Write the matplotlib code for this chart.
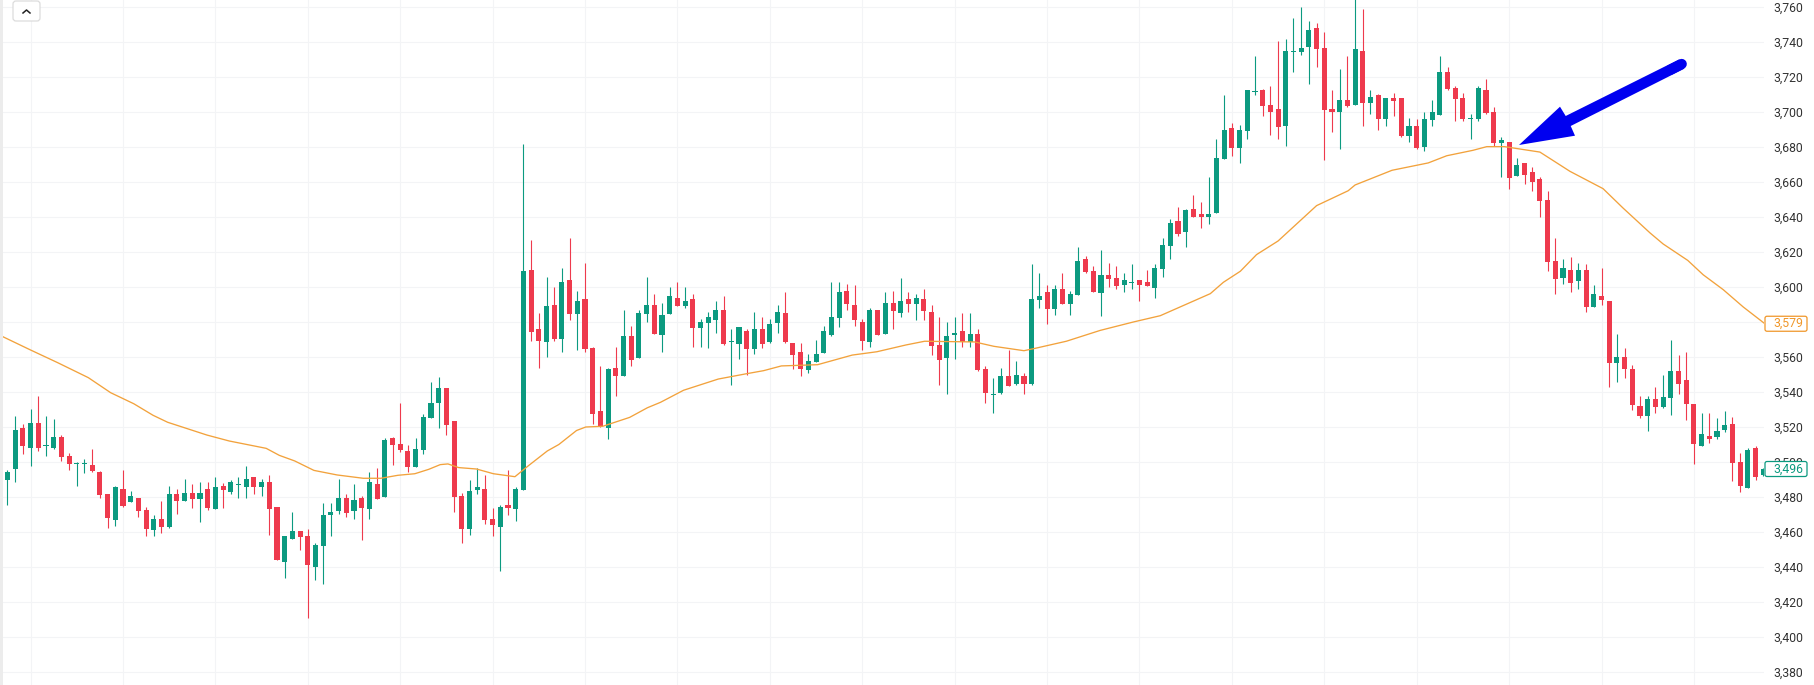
import numpy as np
import matplotlib
matplotlib.use("Agg")
import matplotlib.pyplot as plt
from matplotlib.patches import FancyBboxPatch, Polygon, Rectangle
from matplotlib.lines import Line2D
from matplotlib.transforms import IdentityTransform

W, H = 1814, 685

# Candles, first one sits three bars left of the first vertical grid line
first_bar = -3

opens = [
    3489.5, 3495.8, 3519.2, 3508, 3522.1, 3509, 3507.8, 3514.1, 3503.2, 3498.9, 3498.9, 3498.1,
    3494.1, 3481.5, 3466.7, 3484.4, 3477, 3479.2, 3472.4, 3461, 3467.2, 3462.7, 3481.5, 3477.5,
    3482.1, 3478.7, 3484.4, 3473, 3486.1, 3482.7, 3486.7, 3485.5, 3491.2, 3485.5, 3488.4, 3474.1,
    3442.7, 3455.8, 3460.4, 3457.5, 3439.8, 3451.8, 3469.5, 3471.8, 3479.2, 3471.8, 3479.2, 3473,
    3487.2, 3479.8, 3513.5, 3510.1, 3506.1, 3497, 3506.7, 3525, 3533.5, 3542.1, 3523.2, 3480.4,
    3461.5, 3483.8, 3484.4, 3467.2, 3462.7, 3475.2, 3473, 3483.8,
    3609.9, 3576.2, 3568.8, 3589.9, 3570.5, 3604.2, 3584.8, 3593.3, 3565.3, 3529.3, 3519.6, 3553.9,
    3549.3, 3572.2, 3559.6, 3584.8, 3589.9, 3572.8, 3584.8, 3593.9, 3589.3, 3593.3, 3576.8, 3579.6,
    3581.3, 3587, 3568.8, 3567.6, 3575, 3564.8, 3576.2, 3568.8, 3579.6, 3585.3, 3568.2, 3563,
    3552.8, 3557.3, 3562.5, 3572.8, 3582.5, 3597.9, 3589.9, 3580.2, 3568.8, 3587, 3573.3, 3591,
    3585.3, 3593.3, 3590.5, 3593.3, 3585.9, 3567, 3559.6, 3572.8, 3575, 3568.8, 3573.3, 3553.3,
    3538.5, 3539.4, 3549.3, 3544.8, 3549.3, 3544.8,
    3592.8, 3597.3, 3587.6, 3599, 3590.5, 3595.6, 3616.2, 3609.3, 3596.8, 3607, 3605.3, 3601.3,
    3602.5, 3604.2, 3603, 3599.6, 3610.5, 3623.6, 3637.9, 3631.6, 3644.8, 3641.9, 3640.2, 3642.5,
    3673.3, 3691, 3679.6, 3689.3, 3711.6, 3712.4, 3704.2, 3701.9, 3692.2, 3734.5, 3734.3, 3737.3,
    3748.2, 3736.8, 3701.9, 3700.2, 3707, 3704.2, 3735, 3705.3, 3709.9, 3696.2, 3708.2, 3708.2,
    3686.5, 3692.2, 3680.2, 3695.6, 3698.5, 3723, 3713.9, 3708.2, 3695.8, 3696.2, 3712.8, 3700.2,
    3682.5, 3683, 3663.6, 3671, 3665.9, 3661.9, 3649.9, 3615, 3605.3, 3609.9, 3603.6, 3609.9,
    3588.8, 3595, 3592.2, 3556.8, 3560.2, 3553.3, 3532.2, 3526.5, 3536.2, 3531.6, 3536.8, 3552.2,
    3547, 3533.3, 3509.3, 3515, 3514.5, 3518.5, 3521.9, 3500.2, 3485.3, 3508.2, 3492.8,
]
closes = [
    3494.3, 3518.1, 3509.1, 3522.1, 3508, 3509.5, 3514.1, 3502.9, 3498.9, 3499.2, 3499.2, 3494.7,
    3481.1, 3467.8, 3485.5, 3474.7, 3480.4, 3471.8, 3461.5, 3467.2, 3462.7, 3481.5, 3477.5, 3482.1,
    3478.7, 3482.1, 3473.5, 3485.5, 3483.8, 3488.4, 3487.2, 3490.1, 3485.5, 3488.4, 3473, 3443.8,
    3457.5, 3460.4, 3456.9, 3441, 3452.4, 3469.5, 3471.2, 3479.2, 3470.7, 3478.1, 3473.5, 3488.4,
    3478.7, 3512.4, 3509.5, 3506.7, 3497, 3507.2, 3525.5, 3533.5, 3542.1, 3521, 3479.8, 3461.5,
    3483.2, 3485.5, 3466.7, 3463.8, 3474.1, 3473.5, 3484.4, 3609.3,
    3574.5, 3569.3, 3589.3, 3570.5, 3603, 3584.8, 3592.2, 3564.8, 3527.6, 3520.8, 3553.3, 3549.3,
    3572.2, 3558.5, 3585.3, 3589.9, 3573.3, 3584.2, 3595, 3589.3, 3592.2, 3576.8, 3580.2, 3583,
    3587, 3567.6, 3569.3, 3577.3, 3564.8, 3576.2, 3567.6, 3579, 3585.9, 3568.8, 3561.3, 3553.3,
    3557.9, 3561.9, 3575, 3583, 3597.3, 3590.5, 3581.3, 3569.3, 3587, 3572.8, 3591, 3586.5,
    3592.2, 3590.5, 3593.9, 3586.5, 3566.5, 3558.5, 3572.2, 3573.9, 3568.8, 3573.3, 3552.8, 3539.6,
    3539, 3549.3, 3543.6, 3549.9, 3544.8, 3593.3,
    3595, 3587.6, 3599, 3590.5, 3596.2, 3615, 3608.6, 3597.3, 3607, 3604.8, 3600.8, 3604.2,
    3603, 3601.3, 3600.8, 3611, 3624.2, 3636.8, 3630.5, 3644.2, 3640.2, 3640.2, 3641.9, 3673.9,
    3689.9, 3679.6, 3689.9, 3712.8, 3712.2, 3703.6, 3700.2, 3691.6, 3735, 3735, 3736.8, 3747,
    3736.2, 3701.3, 3700.2, 3707, 3703.6, 3736.2, 3705.3, 3708.8, 3696.2, 3708.2, 3706.5, 3686.5,
    3692.2, 3679.6, 3696.2, 3700.2, 3723, 3713.3, 3707.6, 3696.2, 3696.2, 3713.9, 3699.6, 3682.3,
    3684, 3662.5, 3669.9, 3664.2, 3660.2, 3649.3, 3614.5, 3604.8, 3611, 3602.5, 3609.9, 3588.8,
    3596.2, 3592.8, 3556.8, 3560.2, 3553.3, 3532.8, 3526.5, 3536.2, 3531.6, 3537.3, 3552.2, 3544.8,
    3533.3, 3510.5, 3516.2, 3513.3, 3517.9, 3521.3, 3499.6, 3486.5, 3507, 3491.6, 3496,
]
highs = [
    3495.2, 3526.1, 3521.5, 3530.1, 3537.5, 3526.1, 3524.4, 3515.2, 3505.3, 3500, 3501.5, 3507.2,
    3495, 3481.9, 3486.3, 3495.2, 3483.2, 3479.2, 3474.1, 3469.5, 3477.5, 3486.1, 3484.4, 3490.1,
    3487.2, 3488.4, 3488.4, 3491.2, 3487.8, 3489.5, 3491.2, 3497.5, 3491.2, 3490.1, 3492.4, 3474.1,
    3457.5, 3471.2, 3460.4, 3461.5, 3453.5, 3476.4, 3476.4, 3490.1, 3481.5, 3487.2, 3480.4, 3494.1,
    3496.4, 3513.5, 3514.1, 3533.5, 3509.5, 3513.5, 3527.2, 3545.5, 3548.4, 3542.1, 3523.2, 3482.1,
    3489.5, 3496.4, 3492.4, 3473.5, 3475.2, 3495.2, 3485.5, 3681.9,
    3627, 3585.3, 3605.9, 3600.2, 3611, 3628.2, 3597.9, 3613.9, 3565.9, 3555, 3553.9, 3565.9,
    3587, 3577.9, 3587, 3605.9, 3596.2, 3591, 3600.2, 3603, 3600.2, 3596.2, 3581.9, 3585.9,
    3592.2, 3595, 3576.2, 3577.3, 3576.2, 3585.9, 3583, 3581.9, 3589.9, 3597.3, 3568.2, 3568.2,
    3561.9, 3569.9, 3577.9, 3603, 3603, 3601.9, 3601.3, 3581.9, 3588.2, 3587, 3597.3, 3597.9,
    3605.3, 3597.3, 3596.2, 3599, 3589.9, 3583, 3580.2, 3583, 3585.3, 3585.3, 3576.2, 3555,
    3548.2, 3553.9, 3564.2, 3557.9, 3551, 3613.3,
    3608.2, 3601.3, 3601.3, 3608.2, 3597.9, 3623, 3617.9, 3612.2, 3621.3, 3613.9, 3612.2, 3608.2,
    3613.3, 3604.2, 3609.9, 3613.3, 3628.2, 3639, 3645.9, 3644.8, 3652.8, 3648.8, 3663, 3684.8,
    3709.9, 3693.9, 3692.8, 3712.8, 3732.2, 3713, 3715, 3740.8, 3741.9, 3753.9, 3760.2, 3752.2,
    3751, 3745.9, 3712.8, 3724.8, 3732.2, 3766, 3759, 3712.8, 3710.5, 3708.2, 3711, 3708.2,
    3696.8, 3696.2, 3700.2, 3707, 3732.2, 3725.9, 3715, 3711, 3699, 3715, 3719, 3703,
    3685.7, 3683, 3673.9, 3671, 3668.8, 3663, 3655, 3628.2, 3616.2, 3617.3, 3613.9, 3613.3,
    3601.3, 3611, 3592.2, 3573.3, 3565.3, 3555.6, 3537.9, 3537.9, 3543, 3549.9, 3569.9, 3561.3,
    3563, 3533.3, 3528.2, 3528.2, 3525.3, 3529.3, 3525.9, 3505.3, 3508.2, 3509.3, 3496.5,
]
lows = [
    3475.4, 3488.4, 3504.4, 3497.7, 3506.1, 3503.4, 3507.2, 3500.4, 3495.2, 3486.3, 3493.5, 3494.3,
    3479.2, 3462.1, 3463.4, 3474.3, 3477, 3468.4, 3457.5, 3457.5, 3459.2, 3462.1, 3470.1, 3477.5,
    3473.5, 3465.5, 3472.4, 3473, 3473.5, 3481.5, 3479.2, 3479.2, 3481.5, 3480.4, 3458.1, 3443.8,
    3433.5, 3455.8, 3449.5, 3410.7, 3432.4, 3430.1, 3457.5, 3470.1, 3468.4, 3467.2, 3455.2, 3467.2,
    3478.7, 3479.8, 3498.1, 3505.5, 3494.1, 3497, 3504.4, 3525, 3519.2, 3515.2, 3471.2, 3453.5,
    3458.1, 3481.5, 3464.4, 3457.5, 3437.5, 3469.5, 3466.1, 3483.8,
    3569.3, 3553.9, 3560.2, 3569.3, 3563, 3581.3, 3564.2, 3563, 3521.9, 3520.2, 3513.3, 3537.9,
    3549.3, 3555, 3559.6, 3580.2, 3573.3, 3563, 3584.8, 3589.3, 3588.2, 3565.9, 3565.9, 3565.3,
    3573.9, 3567, 3544.2, 3559, 3549.9, 3561.9, 3565.3, 3568.2, 3573.9, 3568.2, 3553.3, 3549.3,
    3551, 3557.3, 3562.5, 3572.2, 3577.3, 3587, 3577.9, 3564.2, 3565.9, 3572.8, 3573.3, 3576.2,
    3583, 3585.9, 3581.3, 3581.3, 3561.3, 3544.2, 3539, 3559, 3565.9, 3565.9, 3552.2, 3533.9,
    3528.2, 3539, 3543.6, 3544.2, 3539, 3544.2,
    3588.2, 3579, 3584.2, 3590.5, 3584.2, 3595.6, 3608.2, 3597.3, 3583.2, 3600.2, 3599, 3597.3,
    3599, 3592.2, 3600.8, 3593.9, 3605.9, 3616.2, 3629.3, 3623, 3640.2, 3633.9, 3636.2, 3642.5,
    3673.3, 3675, 3671, 3684.8, 3709.9, 3697.9, 3687, 3684.8, 3680.8, 3723, 3732.8, 3716.2,
    3725.9, 3672.8, 3688.8, 3679, 3703, 3704.2, 3692.2, 3699, 3689.9, 3692.2, 3697.9, 3685.9,
    3683, 3679, 3677.9, 3692.2, 3698.5, 3712.8, 3695, 3695, 3684.8, 3695, 3699, 3680.8,
    3663, 3656.2, 3663.6, 3659, 3655, 3640.2, 3609.3, 3596.2, 3601.9, 3597.3, 3599, 3585.9,
    3588.8, 3589.9, 3543, 3545.9, 3548.2, 3529.9, 3525.3, 3517.9, 3528.2, 3531, 3527, 3539,
    3524.2, 3499, 3509.3, 3511, 3513.3, 3517.3, 3489.3, 3483, 3485.3, 3489.9, 3492,
]

# Moving average, read at these bar positions
ma_pos = [
    -3.6, 0, 3.5, 7.5, 10.4, 13.4, 15.9, 17.8, 22.9, 25.8, 30.6, 32.3, 34.3, 36.8, 39.8, 43.2,
    45.5, 47.7, 49.9, 51.7, 53.2, 54.2, 55.6, 57.9, 60.1, 62.9, 64.6, 67.1, 68.6, 70.9, 72.1, 74.3,
    77.8, 80.1, 81.8, 84.8, 89.3, 92.8, 95.2, 97.5, 102.2, 106.7, 109.9, 113.7, 116.1, 122.6, 125.1,
    129, 130.5, 134.5, 138.9, 143.2, 146.7, 153.2, 154.9, 157.1, 159.2, 162, 167, 171.1, 172, 176.8,
    181.5, 183.9, 187.3, 189.1, 191.4, 196, 199.9, 204.2, 206.8, 210.3, 212, 215.2, 217.2, 219.8,
    222.4, 225.1,
]
ma_vals = [
    3571.6, 3564, 3556.8, 3548.2, 3539.6, 3533.3, 3526.7, 3522.7, 3515.4, 3512, 3507.8, 3503.8,
    3500.6, 3495.2, 3492.6, 3490.7, 3490.7, 3492.4, 3493.3, 3495.8, 3498.5, 3498.9, 3496.8, 3496,
    3493.3, 3491.6, 3497.7, 3506.3, 3510, 3518, 3520, 3520.4, 3525.5, 3531, 3534.1, 3541, 3547.4,
    3550.3, 3552.2, 3554.9, 3555.6, 3561.1, 3563, 3566.9, 3569, 3568.6, 3566.1, 3563.6, 3565, 3569,
    3575.2, 3580, 3583.6, 3596.2, 3602.7, 3609, 3618.5, 3626.3, 3646.5, 3655, 3658.3, 3666.7,
    3670.9, 3675, 3678.1, 3680.2, 3680.2, 3677.1, 3666.1, 3656.2, 3645.1, 3630.9, 3624.6, 3615.2,
    3607, 3598.5, 3588.6, 3579.4,
]

price_ticks = list(range(3380, 3780, 20))
ma_last = 3579
price_last = 3496

red = "#ee3a4d"
green = "#0c9a80"
orange = "#f2a23c"
grid_col = "#f3f4f6"

plt.rcParams["font.family"] = ["Roboto", "DejaVu Sans"]

fig = plt.figure(figsize=(W / 100, H / 100), dpi=100, facecolor="white")
ax = fig.add_axes([3 / W, 0, (1764 - 3) / W, 1])
ax.set_xlim(-3.58, 225.1)
ax.set_ylim(3372.57, 3764)

for s in ax.spines.values():
    s.set_visible(False)

opens = np.array(opens)
closes = np.array(closes)
highs = np.array(highs)
lows = np.array(lows)
bars = np.arange(first_bar, first_bar + len(opens))
colors = [green if c >= o else red for o, c in zip(opens, closes)]

# Grid
ax.set_xticks(np.arange(0, 226, 12))
ax.set_xticklabels([])
ax.set_yticks(price_ticks)
ax.set_yticklabels([f"{p:,}" for p in price_ticks])
ax.yaxis.tick_right()
ax.tick_params(axis="both", length=0)
ax.tick_params(axis="y", pad=6.5, labelsize=8.8, labelcolor="#333333")
ax.grid(True, color=grid_col, lw=0.75)
ax.set_axisbelow(True)

# Candles
ax.vlines(bars, lows, highs, colors=colors, lw=0.8, zorder=2)
ax.bar(bars, np.maximum(np.abs(closes - opens), 0.6), bottom=np.minimum(opens, closes),
       width=0.66, color=colors, lw=0, zorder=3)

# Moving average
ax.plot(ma_pos, ma_vals, color=orange, lw=0.95, zorder=4)

pix = IdentityTransform()


def flip(y):
    return H - y


# Price tags on the axis
for val, col in [(ma_last, "#f0972a"), (price_last, "#0c9a80")]:
    yc = ax.transData.transform((0, val))[1]
    tag = FancyBboxPatch((1765, yc - 7.5), 42, 15, boxstyle="round,pad=0,rounding_size=2",
                         fc="white", ec=col, lw=0.9, transform=pix, zorder=5)
    fig.add_artist(tag)
    fig.text(1773 / W, yc / H, f"{val:,}", color=col, fontsize=8.8, va="center", ha="left", zorder=6)

# Strip on the left edge and the collapse button
fig.add_artist(Rectangle((0, 0), 3, H, fc="#ececec", ec="none", transform=pix, zorder=5))
fig.add_artist(FancyBboxPatch((13, flip(21)), 27, 20, boxstyle="round,pad=0,rounding_size=3",
                              fc="white", ec="#dcdcdc", lw=0.9, transform=pix, zorder=5))
fig.add_artist(Line2D([23, 26.5, 30], [flip(13), flip(10), flip(13)], color="#222222", lw=1.1,
                      transform=pix, zorder=6))

# Blue arrow drawn on top of the chart
arrow_xy = [(1519, 145), (1560, 106.7), (1565.7, 116), (1679.3, 59.3), (1684.3, 68.7),
            (1570.7, 126), (1575, 135.7)]
fig.add_artist(Polygon([(x, flip(y)) for x, y in arrow_xy], closed=True, fc="#0000f0", ec="none",
                       transform=pix, zorder=7))
fig.add_artist(Line2D([1670, 1681.7], [flip(70), flip(64)], color="#0000f0", lw=7.4,
                      solid_capstyle="round", transform=pix, zorder=7))

fig.savefig("out.png", dpi=100)
